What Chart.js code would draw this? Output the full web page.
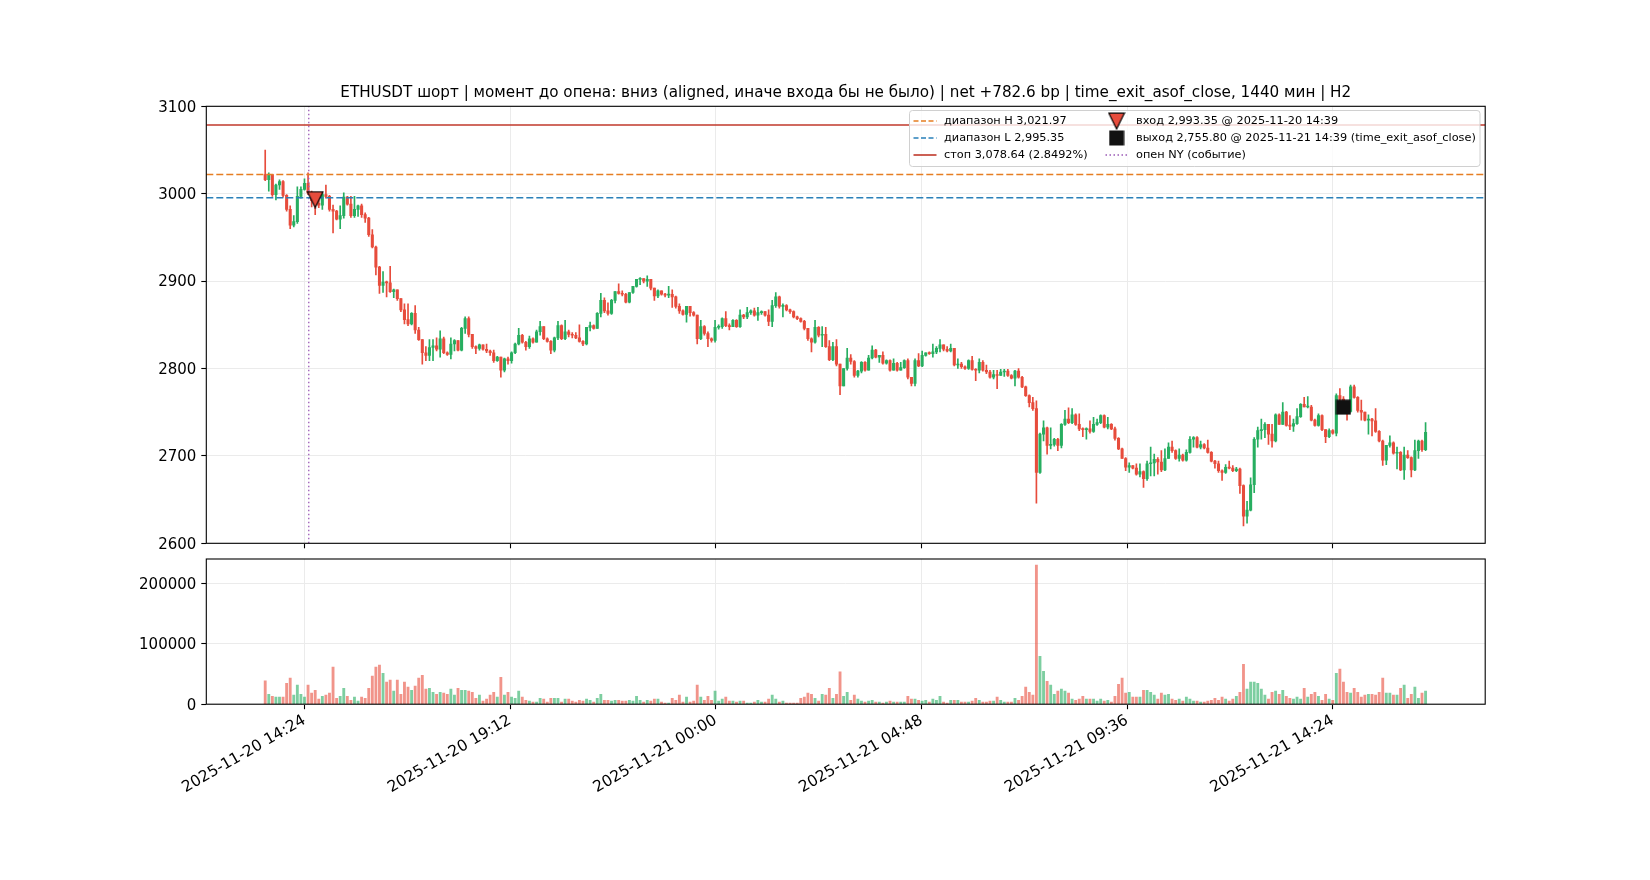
<!DOCTYPE html>
<html>
<head>
<meta charset="utf-8">
<title>ETHUSDT</title>
<script src="https://cdn.jsdelivr.net/npm/chart.js@4.4.1/dist/chart.umd.min.js"></script>
<style>
  body { margin: 0; background: #fff; }
  #wrap { position: relative; width: 1650px; height: 880px; background: #fff; }
  #wrap canvas { position: absolute; left: 0; }
</style>
</head>
<body>
<div id="wrap">
  <canvas id="price" width="1650" height="560" style="top:0"></canvas>
  <canvas id="vol" width="1650" height="335" style="top:545px"></canvas>
</div>
<script>
// 5-minute candles, time in minutes from 2025-11-20 00:00
var T0 = 809;        // 13:29
var STEP = 5;
var X_MIN = 726.5;
var X_MAX = 2517.5;

var tickValues = [864, 1152, 1440, 1728, 2016, 2304];
var tickLabels = ['2025-11-20 14:24', '2025-11-20 19:12', '2025-11-21 00:00',
                  '2025-11-21 04:48', '2025-11-21 09:36', '2025-11-21 14:24'];
var volTickValues = [0, 100000, 200000];

var firstOpen = 3022;
var closes = [
  3016,3022,2999,3010,3014,2998,2982,2964,2968,2997,
  3005,3012,3001,2992,2989,2987,2999,2997,2982,2980,
  2971,2975,2996,2988,2975,2982,2986,2976,2972,2953,
  2939,2916,2895,2899,2898,2888,2890,2880,2867,2856,
  2851,2863,2844,2833,2818,2815,2824,2826,2822,2834,
  2818,2816,2828,2832,2821,2846,2857,2839,2825,2823,
  2827,2822,2820,2818,2809,2813,2798,2811,2809,2818,
  2828,2838,2830,2825,2834,2830,2842,2848,2834,2831,
  2821,2835,2849,2834,2842,2839,2838,2835,2831,2828,
  2847,2849,2846,2863,2878,2866,2863,2878,2888,2886,
  2885,2876,2887,2894,2902,2903,2900,2902,2892,2883,
  2889,2885,2884,2885,2882,2871,2866,2862,2871,2864,
  2861,2834,2848,2840,2834,2832,2847,2848,2857,2849,
  2848,2855,2848,2861,2859,2864,2866,2861,2864,2865,
  2861,2854,2872,2882,2871,2872,2867,2865,2859,2857,
  2854,2846,2834,2830,2847,2838,2839,2825,2810,2825,
  2805,2780,2800,2812,2808,2792,2797,2807,2798,2812,
  2821,2813,2815,2806,2809,2798,2806,2798,2801,2809,
  2790,2783,2809,2803,2815,2818,2817,2819,2823,2827,
  2822,2820,2823,2804,2805,2802,2800,2809,2799,2798,
  2807,2798,2796,2790,2793,2792,2796,2797,2792,2789,
  2797,2790,2779,2769,2761,2754,2681,2725,2732,2712,
  2713,2719,2712,2736,2742,2738,2747,2736,2731,2730,
  2731,2728,2736,2738,2746,2733,2736,2731,2720,2708,
  2697,2687,2689,2686,2679,2682,2674,2691,2692,2696,
  2693,2684,2697,2710,2706,2697,2701,2695,2704,2719,
  2721,2710,2713,2709,2704,2694,2691,2683,2681,2687,
  2686,2683,2685,2666,2631,2638,2667,2719,2729,2730,
  2736,2725,2717,2747,2736,2750,2735,2734,2737,2745,
  2759,2756,2756,2741,2735,2746,2730,2722,2729,2726,
  2769,2765,2758,2751,2779,2767,2752,2750,2741,2742,
  2740,2728,2717,2695,2712,2715,2703,2704,2684,2701,
  2698,2684,2706,2717,2707,2727
];
var highs = [
  3050,3024,3022,3011,3016,3015,2999,2986,2975,3008,
  3008,3017,3024,3003,2995,2996,3001,3010,2998,2987,
  2981,2986,3001,2997,2997,2997,2987,2988,2978,2973,
  2959,2940,2917,2911,2900,2917,2891,2890,2880,2874,
  2874,2864,2872,2847,2833,2825,2833,2833,2835,2843,
  2836,2819,2835,2833,2832,2847,2859,2859,2839,2826,
  2828,2827,2828,2821,2821,2814,2813,2812,2813,2819,
  2829,2846,2839,2831,2837,2835,2844,2854,2848,2835,
  2832,2836,2854,2850,2855,2844,2841,2841,2850,2832,
  2847,2853,2850,2864,2886,2881,2875,2879,2888,2897,
  2889,2886,2887,2894,2902,2904,2903,2906,2902,2892,
  2890,2889,2886,2894,2890,2883,2874,2867,2871,2871,
  2865,2861,2855,2849,2842,2835,2855,2850,2858,2865,
  2851,2856,2856,2867,2862,2870,2867,2869,2870,2866,
  2865,2867,2878,2887,2883,2874,2873,2868,2866,2860,
  2858,2855,2846,2835,2855,2848,2848,2847,2832,2830,
  2833,2805,2800,2823,2816,2809,2798,2808,2808,2815,
  2826,2822,2815,2819,2810,2810,2811,2807,2807,2810,
  2811,2790,2811,2817,2820,2818,2819,2828,2825,2833,
  2827,2825,2828,2823,2811,2807,2803,2810,2814,2800,
  2811,2809,2804,2798,2798,2798,2799,2799,2799,2793,
  2798,2800,2791,2780,2770,2767,2763,2726,2740,2733,
  2732,2720,2720,2737,2752,2755,2754,2748,2748,2732,
  2732,2740,2744,2742,2747,2747,2744,2737,2733,2721,
  2709,2698,2692,2689,2691,2691,2683,2694,2710,2702,
  2698,2706,2708,2715,2717,2707,2708,2702,2707,2722,
  2722,2722,2717,2714,2718,2705,2695,2694,2684,2690,
  2694,2689,2687,2686,2667,2648,2675,2721,2733,2742,
  2738,2736,2736,2748,2748,2761,2751,2746,2742,2754,
  2760,2767,2768,2758,2742,2748,2747,2730,2731,2730,
  2771,2777,2768,2758,2781,2781,2768,2764,2750,2747,
  2743,2754,2729,2718,2712,2723,2716,2710,2705,2710,
  2706,2699,2718,2718,2718,2738
];
var lows = [
  3015,3003,2997,2993,3005,2996,2980,2960,2962,2966,
  2995,3004,2999,2985,2976,2984,2982,2995,2980,2955,
  2970,2960,2972,2987,2973,2973,2974,2973,2967,2951,
  2938,2907,2886,2887,2882,2887,2881,2878,2865,2851,
  2849,2850,2840,2832,2805,2809,2809,2809,2820,2813,
  2817,2815,2811,2820,2820,2820,2840,2836,2823,2817,
  2821,2821,2818,2815,2807,2808,2790,2796,2805,2806,
  2817,2827,2829,2821,2823,2829,2830,2838,2833,2830,
  2817,2819,2833,2833,2833,2836,2835,2834,2830,2826,
  2827,2843,2845,2846,2859,2864,2861,2862,2875,2885,
  2883,2875,2875,2886,2893,2896,2898,2894,2890,2878,
  2881,2884,2882,2881,2870,2869,2863,2861,2853,2860,
  2860,2828,2833,2838,2825,2830,2830,2845,2846,2848,
  2844,2848,2847,2847,2857,2857,2862,2860,2855,2862,
  2860,2849,2848,2870,2869,2859,2866,2863,2858,2856,
  2853,2844,2832,2819,2829,2836,2825,2824,2809,2809,
  2803,2770,2780,2798,2805,2790,2790,2795,2797,2798,
  2811,2812,2807,2805,2805,2797,2798,2797,2798,2800,
  2788,2780,2780,2802,2802,2814,2816,2813,2817,2819,
  2820,2819,2819,2803,2800,2800,2799,2799,2798,2786,
  2795,2797,2794,2789,2788,2777,2792,2791,2791,2788,
  2780,2789,2778,2768,2756,2752,2646,2680,2717,2702,
  2708,2711,2706,2709,2735,2737,2737,2735,2729,2722,
  2719,2726,2727,2735,2737,2732,2731,2730,2718,2707,
  2697,2683,2681,2685,2678,2676,2664,2672,2677,2677,
  2679,2682,2683,2697,2704,2696,2694,2694,2694,2703,
  2710,2709,2708,2708,2703,2693,2686,2681,2672,2680,
  2685,2682,2682,2657,2620,2623,2637,2658,2710,2719,
  2721,2713,2710,2716,2736,2736,2734,2730,2728,2736,
  2744,2756,2755,2740,2734,2734,2729,2715,2721,2725,
  2723,2750,2750,2741,2750,2766,2750,2741,2740,2725,
  2723,2727,2716,2689,2690,2710,2702,2685,2683,2673,
  2697,2676,2683,2697,2705,2706
];
// volume in thousands
var volK = [
  38.6,16.5,13.2,11.6,11.6,11.6,34.7,43,14.9,31.4,
  16.5,11.6,31.4,18.2,23.1,8.3,13.2,14.9,18.2,61.2,
  9.9,13.2,26.4,13.2,6.6,11.6,5,11.6,9.9,26.4,
  46.3,61.2,64.5,51.2,36.4,39.7,21.5,39.7,16.5,36.4,
  28.1,23.1,29.8,43,47.9,24.8,26.4,19.8,16.5,19.8,
  18.2,16.5,24.8,14.9,26.4,23.1,23.1,21.5,19.8,9.9,
  14.9,5,8.3,14.9,19.8,11.6,44.6,14.9,19.8,11.6,
  9.9,21.5,11.6,6.6,5,3.3,3.3,9.9,8.3,3.3,
  9.9,9.9,9.9,3.3,8.3,8.3,5,3.3,6.6,5,
  8.3,6.6,3.3,9.9,16.5,6.6,6.6,5,6.6,6.6,
  5,5,6.6,5,13.2,6.6,3.3,6.6,5,8.3,
  8.3,3.3,1.7,1.7,9.9,6.6,14.9,3.3,11.6,3.3,
  5,31.4,11.6,6.6,13.2,6.6,21.5,5,8.3,11.6,
  5,5,3.3,5,5,1.7,1.7,3.3,6.6,3.3,
  3.3,8.3,14.9,8.3,3.3,5,1.7,1.7,1.7,1.7,
  9.9,11.6,18.2,16.5,9.9,5,16.5,14.9,26.4,9.9,
  16.5,53.4,13.2,19.8,6.6,14.9,8.3,5,3.3,5,
  6.6,3.3,3.3,1.7,3.3,5,3.3,3.3,3.3,3.3,
  13.2,8.3,8.3,6.6,5,6.6,3.3,8.3,6.6,13.2,
  3.3,1.7,6.6,6.6,6.6,3.3,3.3,3.3,5,9.9,
  6.6,3.3,3.3,5,5,11.6,6.6,3.3,3.3,3.3,
  9.9,6.6,13.2,28.1,19.8,14.9,230,79.3,54.5,38,
  31.4,16.5,21.5,24.8,21.5,18.2,8.3,6.6,8.3,13.2,
  8.3,8.3,8.3,5,8.3,5,6.6,3.3,13.2,33,
  43,18.2,19.8,11.6,11.6,11.6,23.1,23.1,19.8,14.9,
  8.3,18.2,14.9,16.5,8.3,6.6,8.3,5,11.6,8.3,
  5,5,3.3,3.3,5,6.6,9.9,6.6,11.6,8.3,
  5,8.3,13.2,19.8,66.1,24.8,36.4,36.4,34.7,24.8,
  14.9,8.3,19.8,21.5,16.5,23.1,13.2,9.9,8.3,11.6,
  8.3,26.4,11.6,16.5,19.8,13.2,6.6,16.5,8.3,6.6,
  51.2,57.9,36.4,19.8,18.2,26.4,19.8,11.6,14.9,16.5,
  16.5,14.9,19.8,43,18.2,18.2,14.9,14.9,26.4,31.4,
  9.9,16.5,28.1,9.9,18.2,21.5
];

var rangeHigh = 3021.97;
var rangeLow = 2995.35;
var stopPrice = 3078.64;
var entryTime = 879;   // 2025-11-20 14:39
var entryPrice = 2993.35;
var exitTime = 2319;   // 2025-11-21 14:39
var exitPrice = 2755.80;
var nyOpenTime = 870;  // 2025-11-20 14:30

var titleText = 'ETHUSDT шорт | момент до опена: вниз (aligned, иначе входа бы не было) | net +782.6 bp | time_exit_asof_close, 1440 мин | H2';

var UP = '#27ae60', DOWN = '#e74c3c';
var UP_VOL = 'rgba(39,174,96,0.6)', DOWN_VOL = 'rgba(231,76,60,0.6)';
var ORANGE = '#e67e22', BLUE = '#2980b9', STOP_RED = '#c0392b', PURPLE = '#9b59b6';

Chart.defaults.font.family = "'DejaVu Sans', sans-serif";
Chart.defaults.font.size = 15;
Chart.defaults.color = '#000';

var opens = closes.map(function (c, i) { return i === 0 ? firstOpen : closes[i - 1]; });
var times = closes.map(function (c, i) { return T0 + i * STEP; });
var isUp = closes.map(function (c, i) { return c >= opens[i]; });

var bodyData = [], wickData = [], volData = [];
for (var i = 0; i < closes.length; i++) {
  bodyData.push({ x: times[i], y: [opens[i], closes[i]] });
  wickData.push({ x: times[i], y: [Math.min(lows[i], opens[i], closes[i]), Math.max(highs[i], opens[i], closes[i])] });
  volData.push({ x: times[i], y: volK[i] * 1000 });
}
var candleColors = isUp.map(function (u) { return u ? UP : DOWN; });
var volColors = isUp.map(function (u) { return u ? UP_VOL : DOWN_VOL; });

// marker images
function makeTriangle() {
  var c = document.createElement('canvas');
  c.width = 18; c.height = 18;
  var g = c.getContext('2d');
  g.beginPath();
  g.moveTo(1.2, 1.2); g.lineTo(16.8, 1.2); g.lineTo(9, 17);
  g.closePath();
  g.fillStyle = DOWN; g.fill();
  g.lineWidth = 1.2; g.strokeStyle = '#000'; g.stroke();
  return c;
}
function makeSquare() {
  var c = document.createElement('canvas');
  c.width = 16; c.height = 16;
  var g = c.getContext('2d');
  g.fillStyle = '#111111';
  g.fillRect(0.5, 0.5, 15, 15);
  return c;
}
var triImg = makeTriangle();
var sqImg = makeSquare();

function gridOpts() {
  return { offset: false, color: '#ebebeb', lineWidth: 1, tickColor: '#000', tickLength: 5, tickWidth: 1.1, drawTicks: true };
}

var framePlugin = {
  id: 'frame',
  afterDraw: function (chart) {
    var a = chart.chartArea, ctx = chart.ctx;
    ctx.save();
    ctx.strokeStyle = '#000';
    ctx.lineWidth = 1.1;
    ctx.strokeRect(a.left, a.top, a.right - a.left, a.bottom - a.top);
    ctx.restore();
  }
};

var titleLegendPlugin = {
  id: 'titleLegend',
  afterDraw: function (chart) {
    var a = chart.chartArea, ctx = chart.ctx;
    ctx.save();
    ctx.fillStyle = '#000';
    ctx.font = "15.2px 'DejaVu Sans'";
    ctx.textAlign = 'center';
    ctx.textBaseline = 'alphabetic';
    ctx.fillText(titleText, (a.left + a.right) / 2, a.top - 9.5);

    // legend box
    var bx = 909.5, by = 110.5, bw = 570.5, bh = 56;
    ctx.beginPath();
    ctx.roundRect(bx, by, bw, bh, 3);
    ctx.fillStyle = 'rgba(255,255,255,0.8)';
    ctx.fill();
    ctx.strokeStyle = '#d0d0d0';
    ctx.lineWidth = 1;
    ctx.stroke();

    var rows = [121, 138, 155];
    ctx.font = "11.3px 'DejaVu Sans'";
    ctx.textAlign = 'left';
    ctx.textBaseline = 'middle';

    function handle(y, color, dash, lw) {
      ctx.beginPath();
      ctx.setLineDash(dash);
      ctx.strokeStyle = color;
      ctx.lineWidth = lw;
      ctx.moveTo(913.5, y); ctx.lineTo(936.5, y);
      ctx.stroke();
      ctx.setLineDash([]);
    }
    handle(rows[0], ORANGE, [5, 2.5], 1.6);
    handle(rows[1], BLUE, [5, 2.5], 1.6);
    handle(rows[2], STOP_RED, [], 1.6);
    ctx.fillStyle = '#000';
    ctx.fillText('диапазон H 3,021.97', 944, rows[0]);
    ctx.fillText('диапазон L 2,995.35', 944, rows[1]);
    ctx.fillText('стоп 3,078.64 (2.8492%)', 944, rows[2]);

    var mx = 1116.6;
    ctx.drawImage(triImg, mx - 9, rows[0] - 9);
    ctx.drawImage(sqImg, mx - 8, rows[1] - 8);
    ctx.beginPath();
    ctx.setLineDash([1.5, 2.5]);
    ctx.strokeStyle = PURPLE;
    ctx.lineWidth = 1.3;
    ctx.moveTo(1105.5, rows[2]); ctx.lineTo(1128, rows[2]);
    ctx.stroke();
    ctx.setLineDash([]);
    ctx.fillStyle = '#000';
    ctx.fillText('вход 2,993.35 @ 2025-11-20 14:39', 1136, rows[0]);
    ctx.fillText('выход 2,755.80 @ 2025-11-21 14:39 (time_exit_asof_close)', 1136, rows[1]);
    ctx.fillText('опен NY (событие)', 1136, rows[2]);
    ctx.restore();
  }
};

function hLine(y) {
  return [{ x: X_MIN, y: y }, { x: X_MAX, y: y }];
}

function xScale(showLabels, height) {
  return {
    type: 'linear',
    offset: false,
    min: X_MIN,
    max: X_MAX,
    afterBuildTicks: function (s) { s.ticks = tickValues.map(function (v) { return { value: v }; }); },
    afterFit: function (s) { s.height = height; },
    ticks: {
      display: showLabels,
      autoSkip: false,
      minRotation: 30,
      maxRotation: 30,
      padding: 2,
      color: '#000',
      font: { size: 15.5 },
      callback: function (v, idx) { return tickLabels[idx]; }
    },
    grid: gridOpts(),
    border: { display: false }
  };
}

function onPageLoad() {
  new Chart(document.getElementById('price'), {
    type: 'bar',
    data: {
      datasets: [
        { type: 'line', data: [{ x: entryTime, y: entryPrice }], showLine: false,
          pointStyle: triImg, pointRadius: 9, order: 0 },
        { type: 'line', data: [{ x: exitTime, y: exitPrice }], showLine: false,
          pointStyle: sqImg, pointRadius: 8, order: 0 },
        { type: 'line', data: hLine(rangeHigh), borderColor: ORANGE, borderWidth: 1.6,
          borderDash: [7, 3], pointRadius: 0, order: 1 },
        { type: 'line', data: hLine(rangeLow), borderColor: BLUE, borderWidth: 1.6,
          borderDash: [7, 3], pointRadius: 0, order: 1 },
        { type: 'line', data: hLine(stopPrice), borderColor: STOP_RED, borderWidth: 1.6,
          pointRadius: 0, order: 1 },
        { type: 'line', data: [{ x: nyOpenTime, y: 2600 }, { x: nyOpenTime, y: 3100 }],
          borderColor: PURPLE, borderWidth: 1.3, borderDash: [1.5, 2.5], pointRadius: 0, order: 1 },
        { data: bodyData, backgroundColor: candleColors, barThickness: 2.4, grouped: false,
          minBarLength: 1, order: 2 },
        { data: wickData, backgroundColor: candleColors, barThickness: 1, grouped: false, order: 3 }
      ]
    },
    options: {
      responsive: false,
      animation: false,
      devicePixelRatio: 1,
      events: [],
      layout: { padding: { top: 106.3, left: 146.3, right: 164.8, bottom: 6.7 } },
      plugins: { legend: { display: false }, tooltip: { enabled: false } },
      scales: {
        x: xScale(false, 10),
        y: {
          min: 2600,
          max: 3100,
          afterFit: function (s) { s.width = 60; },
          ticks: { stepSize: 100, padding: 5, labelOffset: 1.5, color: '#000',
                   callback: function (v) { return String(v); } },
          grid: gridOpts(),
          border: { display: false }
        }
      }
    },
    plugins: [framePlugin, titleLegendPlugin]
  });

  new Chart(document.getElementById('vol'), {
    type: 'bar',
    data: {
      datasets: [
        { data: volData, backgroundColor: volColors, barThickness: 2.2, grouped: false }
      ]
    },
    options: {
      responsive: false,
      animation: false,
      devicePixelRatio: 1,
      events: [],
      layout: { padding: { top: 13.3, left: 116.3, right: 164.8, bottom: 25.8 } },
      plugins: { legend: { display: false }, tooltip: { enabled: false } },
      scales: {
        x: xScale(true, 150),
        y: {
          min: 0,
          max: 240000,
          afterBuildTicks: function (s) {
            s.ticks = volTickValues.map(function (v) { return { value: v }; });
          },
          afterFit: function (s) { s.width = 90; },
          ticks: { autoSkip: false, padding: 5, labelOffset: 1.5, color: '#000',
                   callback: function (v) { return String(v); } },
          grid: gridOpts(),
          border: { display: false }
        }
      }
    },
    plugins: [framePlugin]
  });
}

window.addEventListener('load', onPageLoad);
</script>
</body>
</html>
